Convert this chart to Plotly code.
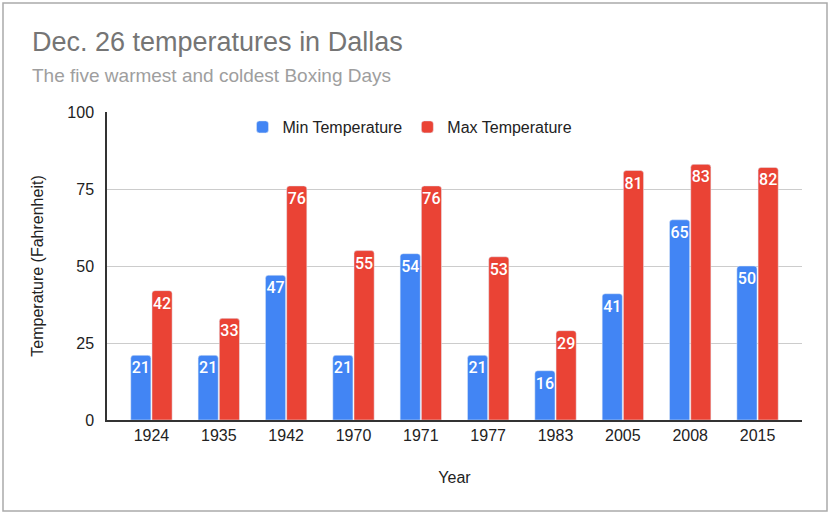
import plotly.graph_objects as go

years = ["1924", "1935", "1942", "1970", "1971", "1977", "1983", "2005", "2008", "2015"]
min_temp = [21, 21, 47, 21, 54, 21, 16, 41, 65, 50]
max_temp = [42, 33, 76, 55, 76, 53, 29, 81, 83, 82]

BLUE = "#4285F4"
RED = "#EA4335"
W, H = 830, 514
L, R, T, B = 107, 28, 112, 94
PW, PH = W - L - R, H - T - B


def px(x):
    return (x - L) / PW


def py(y):
    return (H - B - y) / PH


fig = go.Figure()
for vals, name, col in [(min_temp, "Min Temperature", BLUE), (max_temp, "Max Temperature", RED)]:
    fig.add_trace(go.Bar(
        x=years, y=vals, name=name, marker_color=col,
        text=vals, textposition="inside", insidetextanchor="end",
        textangle=0, constraintext="none",
        textfont=dict(family="Roboto", size=16, color="white", weight=500,
                      shadow="0px 0px 2px " + col),
    ))

fig.update_layout(
    width=W, height=H,
    paper_bgcolor="white", plot_bgcolor="white",
    margin=dict(l=L, r=R, t=T, b=B, autoexpand=False),
    barmode="group", bargap=0.37, bargroupgap=0.05,
    barcornerradius=3,
    font=dict(family="Arial", color="#222222"),
    showlegend=True,
    legend=dict(
        orientation="h", x=px(410), xanchor="center", y=py(127), yanchor="middle",
        font=dict(family="Arial", size=16, color="#222222"),
        bgcolor="rgba(0,0,0,0)",
    ),
    xaxis=dict(
        range=[-0.66, 9.66],
        showline=True, linecolor="#333333", linewidth=1.5,
        tickfont=dict(family="Arial", size=16, color="#222222"),
        title=dict(text="Year", font=dict(family="Arial", size=16, color="#222222"), standoff=29),
        ticks="",
    ),
    yaxis=dict(
        range=[0, 100], tickvals=[0, 25, 50, 75, 100],
        showgrid=True, gridcolor="#cccccc", gridwidth=1,
        showline=True, linecolor="#333333", linewidth=1.5,
        zeroline=False,
        tickfont=dict(family="Arial", size=16, color="#222222"),
        title=dict(text="Temperature (Fahrenheit)", font=dict(family="Arial", size=16, color="#222222"), standoff=20),
        ticks="", ticklabelstandoff=8,
    ),
    annotations=[
        dict(text="Dec. 26 temperatures in Dallas", x=px(30), y=py(42), xref="paper", yref="paper",
             xanchor="left", yanchor="middle", showarrow=False,
             font=dict(family="Arial", size=27, color="#757575")),
        dict(text="The five warmest and coldest Boxing Days", x=px(30), y=py(75), xref="paper", yref="paper",
             xanchor="left", yanchor="middle", showarrow=False,
             font=dict(family="Arial", size=19, color="#9e9e9e")),
    ],
    shapes=[dict(type="rect", xref="paper", yref="paper",
                 x0=px(3), x1=px(827), y0=py(511), y1=py(3),
                 line=dict(color="#aaaaaa", width=1.5), layer="below")],
)

fig.write_html("out.html", config={"displayModeBar": False},
               post_script="document.body.style.margin='0';document.body.style.padding='0';")
